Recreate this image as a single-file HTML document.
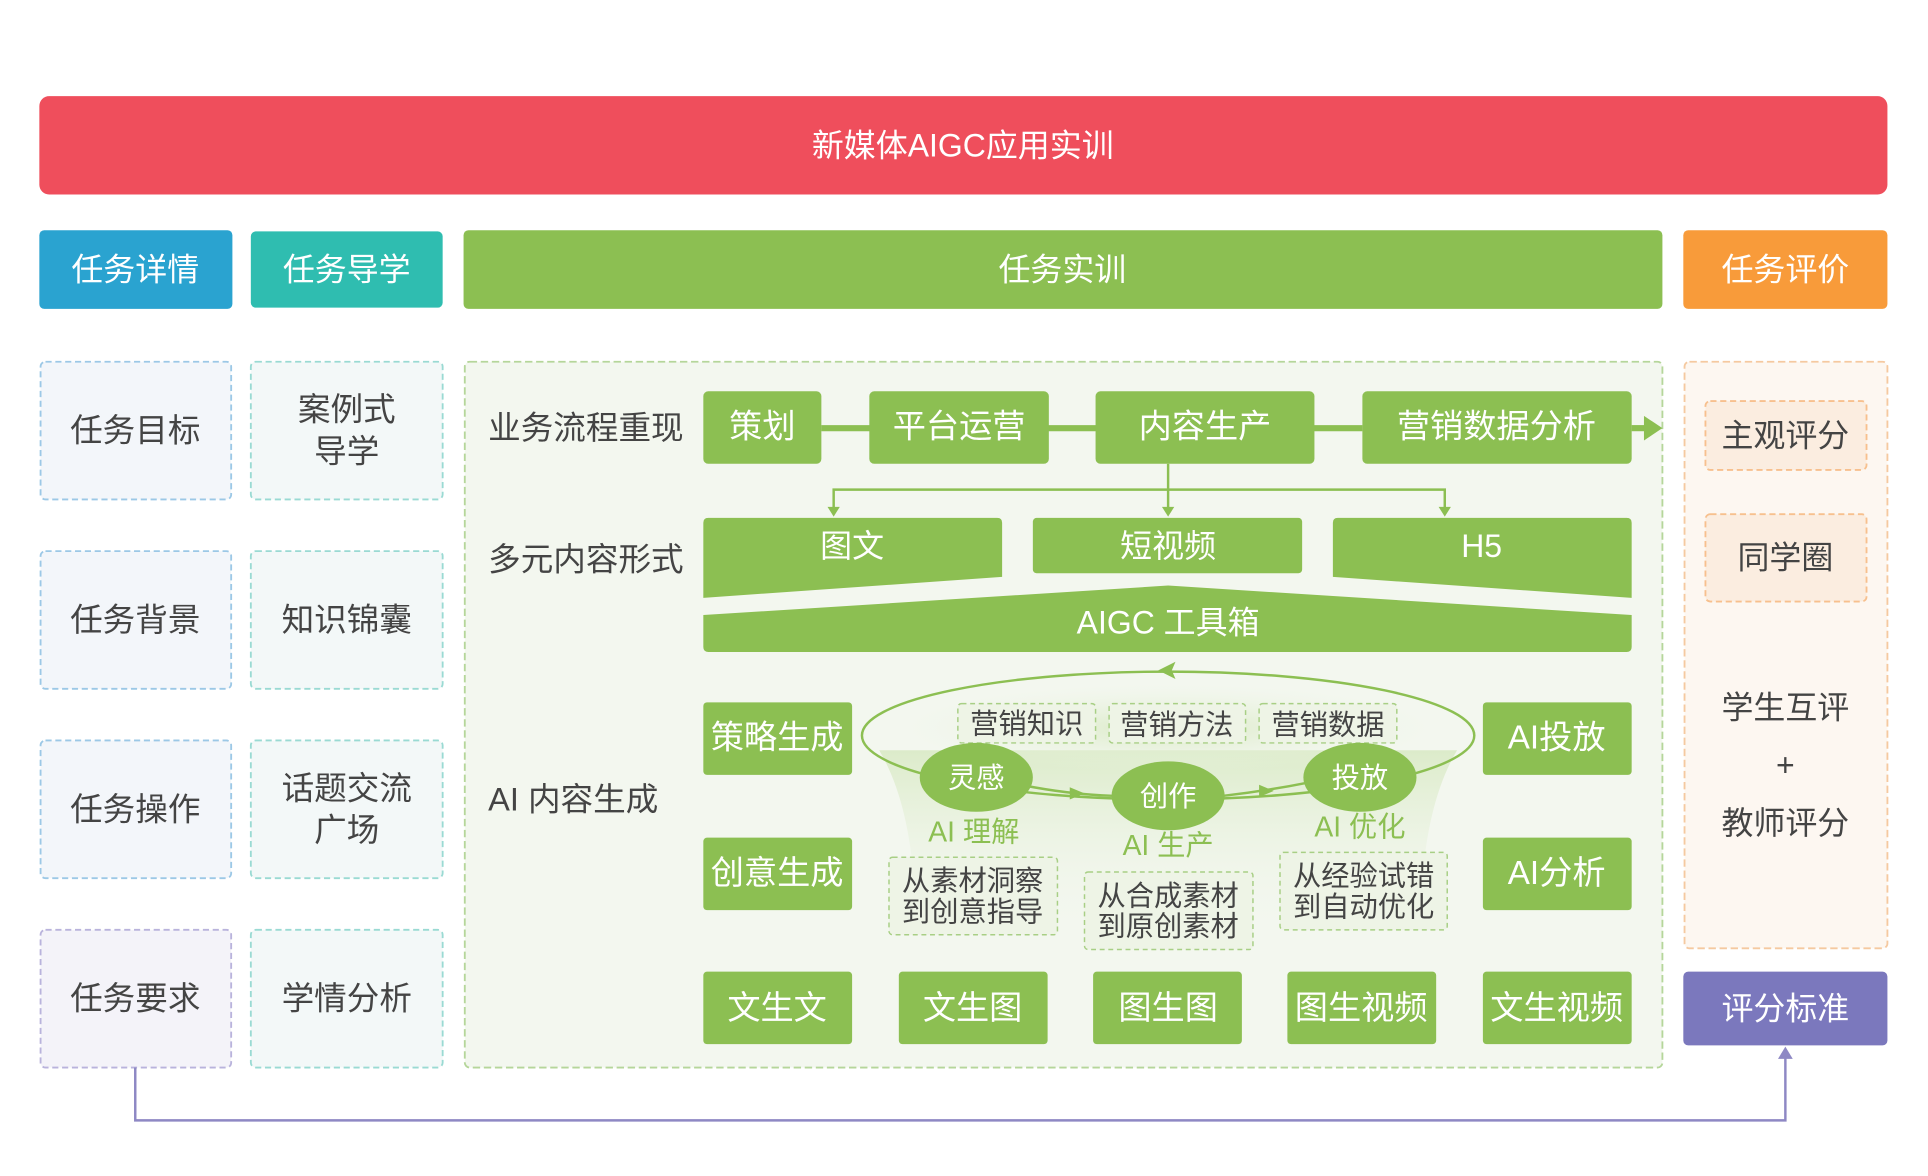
<!DOCTYPE html>
<html><head><meta charset="utf-8"><style>
html,body{margin:0;padding:0;background:#fff;}
svg{display:block;}
text{font-family:"Liberation Sans","Noto Sans CJK SC",sans-serif;}
</style></head><body>
<svg width="1928" height="1176" viewBox="0 0 1568 956" xmlns="http://www.w3.org/2000/svg">
<defs>
<radialGradient id="glow" cx="50%" cy="50%" r="50%">
<stop offset="0%" stop-color="#d9e9c4"/><stop offset="100%" stop-color="#eef5e6" stop-opacity="0"/>
</radialGradient>
<linearGradient id="fun" x1="0" y1="0" x2="0" y2="1">
<stop offset="0%" stop-color="#d6e8c0"/><stop offset="100%" stop-color="#f3f7ef" stop-opacity="0"/>
</linearGradient>
</defs>
<g text-anchor="middle" dominant-baseline="central">
<rect x="32" y="78" width="1503" height="80" rx="8" fill="#EF4E5C"/>
<text x="783" y="118" font-size="26" fill="#fff">新媒体AIGC应用实训</text>

<rect x="32" y="187" width="157" height="64" rx="4" fill="#2AA3D0"/>
<text x="110" y="219" font-size="26" fill="#fff">任务详情</text>
<rect x="204" y="188" width="156" height="62" rx="4" fill="#2FBDB0"/>
<text x="282" y="219" font-size="26" fill="#fff">任务导学</text>
<rect x="377" y="187" width="975" height="64" rx="4" fill="#8CBF52"/>
<text x="864" y="219" font-size="26" fill="#fff">任务实训</text>
<rect x="1369" y="187" width="166" height="64" rx="4" fill="#F89B3A"/>
<text x="1452" y="219" font-size="26" fill="#fff">任务评价</text>

<g font-size="26.5" fill="#444">
<rect x="33" y="294" width="155" height="112" rx="4" fill="#F3F6FA" stroke="#9CC8E6" stroke-dasharray="5 3" stroke-width="1.5"/>
<text x="110" y="350">任务目标</text>
<rect x="33" y="448" width="155" height="112" rx="4" fill="#F3F6FA" stroke="#9CC8E6" stroke-dasharray="5 3" stroke-width="1.5"/>
<text x="110" y="504">任务背景</text>
<rect x="33" y="602" width="155" height="112" rx="4" fill="#F3F6FA" stroke="#9CC8E6" stroke-dasharray="5 3" stroke-width="1.5"/>
<text x="110" y="658">任务操作</text>
<rect x="33" y="756" width="155" height="112" rx="4" fill="#F4F3F9" stroke="#B9B3DC" stroke-dasharray="5 3" stroke-width="1.5"/>
<text x="110" y="812">任务要求</text>

<rect x="204" y="294" width="156" height="112" rx="4" fill="#F3F8F8" stroke="#9ADAD3" stroke-dasharray="5 3" stroke-width="1.5"/>
<text x="282" y="333">案例式</text><text x="282" y="367">导学</text>
<rect x="204" y="448" width="156" height="112" rx="4" fill="#F3F8F8" stroke="#9ADAD3" stroke-dasharray="5 3" stroke-width="1.5"/>
<text x="282" y="504">知识锦囊</text>
<rect x="204" y="602" width="156" height="112" rx="4" fill="#F3F8F8" stroke="#9ADAD3" stroke-dasharray="5 3" stroke-width="1.5"/>
<text x="282" y="641">话题交流</text><text x="282" y="675">广场</text>
<rect x="204" y="756" width="156" height="112" rx="4" fill="#F3F8F8" stroke="#9ADAD3" stroke-dasharray="5 3" stroke-width="1.5"/>
<text x="282" y="812">学情分析</text>
</g>

<rect x="1370" y="294" width="165" height="477" rx="4" fill="#FDF7F1" stroke="#F5C9A0" stroke-dasharray="6 3" stroke-width="1.5"/>
<rect x="1387" y="326" width="131" height="56" rx="4" fill="#FBEDE0" stroke="#F7C08E" stroke-dasharray="5 3" stroke-width="1.5"/>
<text x="1452" y="354" font-size="26" fill="#444">主观评分</text>
<rect x="1387" y="418" width="131" height="71" rx="4" fill="#FBEDE0" stroke="#F7C08E" stroke-dasharray="5 3" stroke-width="1.5"/>
<text x="1452" y="453" font-size="26" fill="#444">同学圈</text>
<text x="1452" y="575" font-size="26" fill="#444">学生互评</text>
<text x="1452" y="622" font-size="26" fill="#444">+</text>
<text x="1452" y="669" font-size="26" fill="#444">教师评分</text>
<rect x="1369" y="790" width="166" height="60" rx="4" fill="#7B78BD"/>
<text x="1452" y="820" font-size="26" fill="#fff">评分标准</text>

<polyline points="110,868 110,911 1452,911 1452,858" fill="none" stroke="#8E88C4" stroke-width="2"/>
<polygon points="1446,861 1452,851 1458,861" fill="#8E88C4"/>

<rect x="378" y="294" width="974" height="574" rx="4" fill="#F3F7EF" stroke="#B5D69A" stroke-dasharray="6 3" stroke-width="1.5"/>
<g font-size="26.5" fill="#444" text-anchor="start">
<text x="397" y="348">业务流程重现</text>
<text x="397" y="455">多元内容形式</text>
<text x="397" y="650">AI 内容生成</text>
</g>

<line x1="668" y1="348" x2="1108" y2="348" stroke="#8CBF52" stroke-width="5"/>
<line x1="1327" y1="348" x2="1338" y2="348" stroke="#8CBF52" stroke-width="5"/>
<polygon points="1337,338 1352,348 1337,358" fill="#8CBF52"/>
<g fill="#8CBF52">
<rect x="572" y="318" width="96" height="59" rx="4"/>
<rect x="707" y="318" width="146" height="59" rx="4"/>
<rect x="891" y="318" width="178" height="59" rx="4"/>
<rect x="1108" y="318" width="219" height="59" rx="4"/>
</g>
<g font-size="27" fill="#fff">
<text x="620" y="347">策划</text><text x="780" y="347">平台运营</text>
<text x="980" y="347">内容生产</text><text x="1217" y="347">营销数据分析</text>
</g>
<g stroke="#8CBF52" stroke-width="2" fill="none">
<line x1="950" y1="377" x2="950" y2="413"/>
<polyline points="678,413 678,398 1175,398 1175,413"/>
</g>
<g fill="#8CBF52">
<polygon points="673,412 683,412 678,420"/><polygon points="945,412 955,412 950,420"/><polygon points="1170,412 1180,412 1175,420"/>
<path d="M576,421 H811 Q815,421 815,425 V469 L572,486 V425 Q572,421 576,421Z"/>
<rect x="840" y="421" width="219" height="45" rx="3"/>
<path d="M1088,421 H1323 Q1327,421 1327,425 V486 L1084,469 V425 Q1084,421 1088,421Z"/>
<path d="M572,500 L950,476 L1327,500 V526 Q1327,530 1323,530 H576 Q572,530 572,526Z"/>
</g>
<g font-size="26" fill="#fff">
<text x="693" y="444">图文</text><text x="950" y="444">短视频</text><text x="1205" y="444">H5</text>
<text x="950" y="506">AIGC 工具箱</text>
</g>

<path d="M715,610 Q745,660 745,760 H1155 Q1155,660 1185,610 Z" fill="url(#fun)" opacity="0.8"/>
<ellipse cx="950" cy="592" rx="215" ry="36" fill="url(#glow)"/>
<ellipse cx="950" cy="598" rx="249" ry="52" fill="none" stroke="#8CBF52" stroke-width="2"/>
<polygon points="942,545 956,538 953,545 956,552" fill="#8CBF52"/>
<g font-size="23" fill="#444">
<rect x="779" y="572" width="112" height="32" rx="3" fill="#EEF4E6" stroke="#A8CF85" stroke-dasharray="4 3" stroke-width="1.2"/>
<text x="835" y="588">营销知识</text>
<rect x="902" y="572" width="111" height="32" rx="3" fill="#EEF4E6" stroke="#A8CF85" stroke-dasharray="4 3" stroke-width="1.2"/>
<text x="957" y="589">营销方法</text>
<rect x="1024" y="572" width="112" height="32" rx="3" fill="#EEF4E6" stroke="#A8CF85" stroke-dasharray="4 3" stroke-width="1.2"/>
<text x="1080" y="589">营销数据</text>
</g>
<g stroke="#8CBF52" stroke-width="2" fill="none">
<path d="M830,638 Q870,646 905,647"/><path d="M995,647 Q1030,643 1065,636"/>
</g>
<polygon points="870,640 882,645 870,650" fill="#8CBF52"/>
<polygon points="1024,638 1036,643 1024,648" fill="#8CBF52"/>
<g fill="#8CBF52">
<ellipse cx="794" cy="632" rx="46" ry="28"/>
<ellipse cx="950" cy="647" rx="46" ry="28"/>
<ellipse cx="1106" cy="632" rx="46" ry="28"/>
</g>
<g font-size="23" fill="#fff">
<text x="794" y="632">灵感</text><text x="950" y="647">创作</text><text x="1106" y="632">投放</text>
</g>
<g font-size="23" fill="#8CBF52">
<text x="792" y="676">AI 理解</text><text x="950" y="687">AI 生产</text><text x="1106" y="672">AI 优化</text>
</g>
<g font-size="23" fill="#444">
<rect x="723" y="697" width="137" height="63" rx="3" fill="#EEF4E6" stroke="#A8CF85" stroke-dasharray="4 3" stroke-width="1.2"/>
<text x="791" y="716">从素材洞察</text><text x="791" y="741">到创意指导</text>
<rect x="882" y="709" width="137" height="63" rx="3" fill="#EEF4E6" stroke="#A8CF85" stroke-dasharray="4 3" stroke-width="1.2"/>
<text x="950" y="728">从合成素材</text><text x="950" y="753">到原创素材</text>
<rect x="1041" y="693" width="136" height="63" rx="3" fill="#EEF4E6" stroke="#A8CF85" stroke-dasharray="4 3" stroke-width="1.2"/>
<text x="1109" y="712">从经验试错</text><text x="1109" y="737">到自动优化</text>
</g>

<g fill="#8CBF52">
<rect x="572" y="571" width="121" height="59" rx="3"/><rect x="572" y="681" width="121" height="59" rx="3"/>
<rect x="1206" y="571" width="121" height="59" rx="3"/><rect x="1206" y="681" width="121" height="59" rx="3"/>
<rect x="572" y="790" width="121" height="59" rx="3"/><rect x="731" y="790" width="121" height="59" rx="3"/>
<rect x="889" y="790" width="121" height="59" rx="3"/><rect x="1047" y="790" width="121" height="59" rx="3"/>
<rect x="1206" y="790" width="121" height="59" rx="3"/>
</g>
<g font-size="27" fill="#fff">
<text x="632" y="600">策略生成</text><text x="632" y="710">创意生成</text>
<text x="1266" y="600">AI投放</text><text x="1266" y="710">AI分析</text>
<text x="632" y="820">文生文</text><text x="791" y="820">文生图</text><text x="950" y="820">图生图</text>
<text x="1107" y="820">图生视频</text><text x="1266" y="820">文生视频</text>
</g>
</g>
</svg>
</body></html>
